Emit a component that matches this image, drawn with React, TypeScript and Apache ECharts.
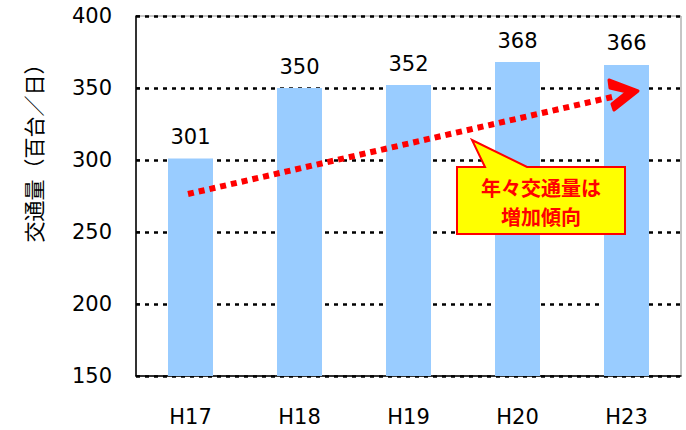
import React, { useEffect, useRef } from "react";
import * as echarts from "echarts";

const categories = ["H17", "H18", "H19", "H20", "H23"];
const trafficValues = [301, 350, 352, 368, 366];
const yTicks = { min: 150, max: 400, interval: 50 };
const axisName = "交通量（百台／日）";
const calloutLines = ["年々交通量は", "増加傾向"];

const FONT = "'DejaVu Sans', sans-serif";
const JP_FONT = "'Noto Sans CJK JP', sans-serif";

export default function App() {
  const ref = useRef<HTMLDivElement>(null);

  useEffect(() => {
    if (!ref.current) return;
    const chart = echarts.init(ref.current, null, { renderer: "svg" });
    chart.setOption({
      animation: false,
      backgroundColor: "#ffffff",
      grid: {
        left: 136,
        right: 5,
        top: 16,
        bottom: 54,
        show: true,
        borderColor: "#8c8c8c",
        borderWidth: 1,
        backgroundColor: "transparent",
      },
      xAxis: {
        type: "category",
        data: categories,
        axisLine: { lineStyle: { color: "#000", width: 1.5 } },
        axisTick: { inside: true, length: 9, lineStyle: { color: "#000", width: 1.5 } },
        axisLabel: {
          color: "#000",
          fontSize: 21,
          fontFamily: FONT,
          margin: 30,
        },
        splitLine: { show: false },
      },
      yAxis: {
        type: "value",
        min: yTicks.min,
        max: yTicks.max,
        interval: yTicks.interval,
        axisLine: { show: true, lineStyle: { color: "#000", width: 1.5 } },
        axisTick: { show: true, inside: true, length: 4, lineStyle: { color: "#000", width: 1.5 } },
        axisLabel: {
          color: "#000",
          fontSize: 21,
          fontFamily: FONT,
          margin: 24,
          padding: [7, 0, 0, 0],
        },
        splitLine: {
          show: true,
          lineStyle: { color: "#000", width: 2.5, type: [4, 5] },
        },
      },
      series: [
        {
          type: "bar",
          data: trafficValues,
          barWidth: 45,
          itemStyle: { color: "#99CCFF" },
          label: {
            show: true,
            position: "top",
            distance: 11,
            color: "#000",
            fontSize: 21,
            fontFamily: FONT,
          },
          z: 2,
        },
      ],
      graphic: [
        {
          type: "text",
          x: 33,
          y: 148,
          rotation: Math.PI / 2,
          style: {
            text: axisName,
            fontSize: 21,
            fontFamily: JP_FONT,
            fill: "#000",
            align: "center",
            verticalAlign: "middle",
          },
        },
        {
          type: "line",
          shape: { x1: 188, y1: 194, x2: 612, y2: 97 },
          style: { stroke: "#FF0000", lineWidth: 6, lineDash: [6, 5] },
          z: 10,
        },
        {
          type: "polygon",
          shape: {
            points: [
              [609, 80],
              [638, 91],
              [614, 110],
              [612, 104],
              [627, 92],
              [610, 88],
            ],
          },
          style: {
            stroke: "#FF0000",
            lineWidth: 3,
            fill: "#FF0000",
            lineJoin: "round",
          },
          z: 10,
        },
        {
          type: "polygon",
          shape: {
            points: [
              [457, 167],
              [485, 167],
              [472, 140],
              [527, 167],
              [625, 167],
              [625, 234],
              [457, 234],
            ],
          },
          style: { fill: "#FFFF00", stroke: "#FF0000", lineWidth: 2 },
          z: 11,
        },
        {
          type: "text",
          x: 541,
          y: 187,
          style: {
            text: calloutLines[0],
            fontSize: 20,
            fontWeight: "bold",
            fontFamily: JP_FONT,
            fill: "#FF0000",
            align: "center",
            verticalAlign: "middle",
          },
          z: 12,
        },
        {
          type: "text",
          x: 541,
          y: 216,
          style: {
            text: calloutLines[1],
            fontSize: 20,
            fontWeight: "bold",
            fontFamily: JP_FONT,
            fill: "#FF0000",
            align: "center",
            verticalAlign: "middle",
          },
          z: 12,
        },
      ],
    });
    return () => chart.dispose();
  }, []);

  return (
    <div
      ref={ref}
      style={{ width: 686, height: 430, position: "absolute", left: 0, top: 0 }}
    />
  );
}
